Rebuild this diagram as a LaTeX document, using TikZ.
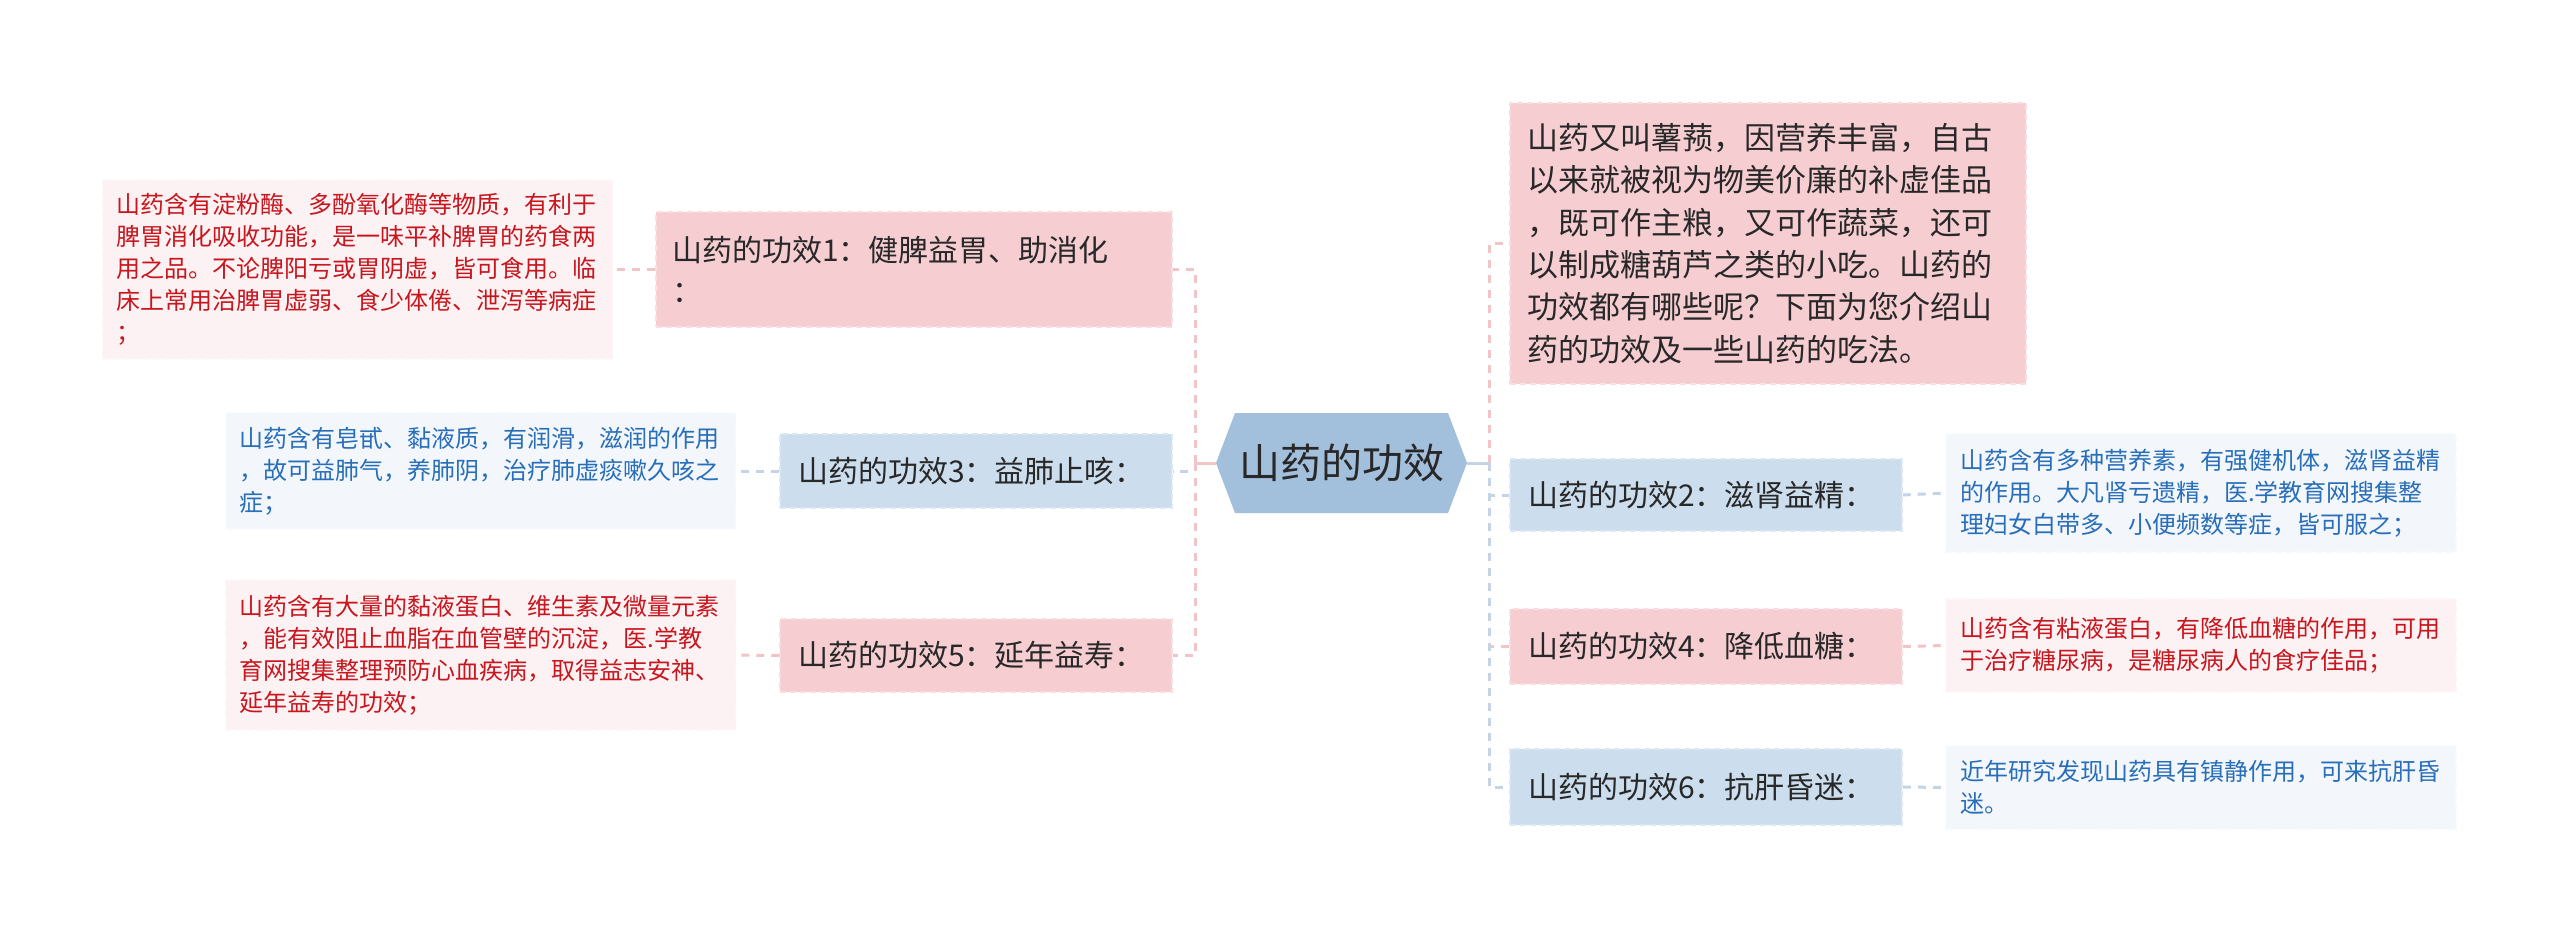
\documentclass[tikz,border=0pt]{standalone}
\usepackage{fontspec}
\setmainfont{Noto Sans CJK SC}
\definecolor{rootfill}{HTML}{A2BFDC}
\definecolor{pinkfill}{HTML}{F6CED2}
\definecolor{pinkborder}{HTML}{F9DDE0}
\definecolor{bluefill}{HTML}{CCDEEE}
\definecolor{blueborder}{HTML}{DCE8F3}
\definecolor{leafpink}{HTML}{FCF2F3}
\definecolor{leafpinkborder}{HTML}{FDF6F7}
\definecolor{leafblue}{HTML}{F3F7FC}
\definecolor{leafblueborder}{HTML}{F7FAFD}
\definecolor{redtext}{HTML}{C8161E}
\definecolor{bluetext}{HTML}{286EB9}
\definecolor{darktext}{HTML}{282828}
\definecolor{pinkline}{HTML}{F2C4C8}
\definecolor{blueline}{HTML}{C4D4E6}
\begin{document}
\begin{tikzpicture}[x=1pt,y=-1pt,
  mainbox/.style={rectangle, dashed, dash pattern=on 6pt off 4pt, line width=1.5pt, inner xsep=0pt, inner ysep=0pt, align=left, text=darktext, font=\fontsize{30}{41}\selectfont},
  pinkmain/.style={mainbox, fill=pinkfill, draw=pinkborder},
  bluemain/.style={mainbox, fill=bluefill, draw=blueborder},
  narrowmain/.style={text width=356pt, minimum width=392pt},
  leafbox/.style={rectangle, dashed, dash pattern=on 6pt off 4pt, line width=1.5pt, inner xsep=0pt, inner ysep=0pt, align=left, text width=482pt, minimum width=510pt, font=\fontsize{24}{32}\selectfont},
  pinkleaf/.style={leafbox, fill=leafpink, draw=leafpinkborder, text=redtext},
  blueleaf/.style={leafbox, fill=leafblue, draw=leafblueborder, text=bluetext},
  pinkedge/.style={draw=pinkline, line width=3pt, dash pattern=on 8pt off 7pt},
  blueedge/.style={draw=blueline, line width=3pt, dash pattern=on 8pt off 7pt},
  pinkroot/.style={draw=pinkline, line width=3pt},
  blueroot/.style={draw=blueline, line width=3pt}
]
\fill[white] (0,0) rectangle (2560,934);
\useasboundingbox (0,0) rectangle (2560,934);

% root hexagon
\fill[rootfill] (1216,463) -- (1235,413) -- (1448,413) -- (1467,463) -- (1448,513) -- (1235,513) -- cycle;
\node[text=darktext, font=\fontsize{41}{41}\selectfont, minimum width=251pt, minimum height=100pt, inner sep=0pt] (root) at (1341.5,463) {山药的功效};

% trunk coordinates
\coordinate (lt) at (1195,463);
\coordinate (rt) at (1489,463);

% left main nodes
\node[pinkmain, text width=484pt, minimum width=516pt, minimum height=115pt] (n1) at (914,269.5) {山药的功效1：健脾益胃、助消化\\：};
\node[bluemain, narrowmain, minimum height=74pt] (n3) at (976,471) {山药的功效3：益肺止咳：};
\node[pinkmain, narrowmain, minimum height=73pt] (n5) at (976,655.5) {山药的功效5：延年益寿：};

% right main nodes
\node[pinkmain, text width=482pt, minimum width=516pt, minimum height=281pt, font=\fontsize{31}{42.4}\selectfont] (intro) at (1768,243.5) {山药又叫薯蓣，因营养丰富，自古\\以来就被视为物美价廉的补虚佳品\\，既可作主粮，又可作蔬菜，还可\\以制成糖葫芦之类的小吃。山药的\\功效都有哪些呢？下面为您介绍山\\药的功效及一些山药的吃法。};
\node[bluemain, narrowmain, minimum height=72pt] (n2) at (1706,495) {山药的功效2：滋肾益精：};
\node[pinkmain, narrowmain, minimum height=75pt] (n4) at (1706,646.5) {山药的功效4：降低血糖：};
\node[bluemain, narrowmain, minimum height=76pt] (n6) at (1706,787) {山药的功效6：抗肝昏迷：};

% leaves
\node[pinkleaf, minimum height=179pt] (l1) at (357.5,269.5) {山药含有淀粉酶、多酚氧化酶等物质，有利于\\脾胃消化吸收功能，是一味平补脾胃的药食两\\用之品。不论脾阳亏或胃阴虚，皆可食用。临\\床上常用治脾胃虚弱、食少体倦、泄泻等病症\\；};
\node[blueleaf, minimum height=116pt] (l3) at (480.5,471) {山药含有皂甙、黏液质，有润滑，滋润的作用\\，故可益肺气，养肺阴，治疗肺虚痰嗽久咳之\\症；};
\node[pinkleaf, minimum height=150pt] (l5) at (480.5,655) {山药含有大量的黏液蛋白、维生素及微量元素\\，能有效阻止血脂在血管壁的沉淀，医.学教\\育网搜集整理预防心血疾病，取得益志安神、\\延年益寿的功效；};
\node[blueleaf, minimum height=118pt] (l2) at (2201,493) {山药含有多种营养素，有强健机体，滋肾益精\\的作用。大凡肾亏遗精，医.学教育网搜集整\\理妇女白带多、小便频数等症，皆可服之；};
\node[pinkleaf, minimum height=93pt] (l4) at (2201,645.5) {山药含有粘液蛋白，有降低血糖的作用，可用\\于治疗糖尿病，是糖尿病人的食疗佳品；};
\node[blueleaf, minimum height=83pt] (l6) at (2201,787.5) {近年研究发现山药具有镇静作用，可来抗肝昏\\迷。};

% connectors root -> main (left)
\draw[blueedge] (lt) |- (n3.east);
\draw[pinkedge] (lt) |- (n1.east);
\draw[pinkedge] (lt) |- (n5.east);
\draw[pinkroot] (root.west) -- (lt);

% connectors root -> main (right)
\draw[pinkedge] (rt) |- (intro.west);
\draw[blueedge] (rt) |- (n2.west);
\draw[pinkedge] (rt) |- (n4.west);
\draw[blueedge] (rt) |- (n6.west);
\draw[blueroot] (root.east) -- (rt);

% main -> leaf
\draw[pinkedge] (n1.west) -- (l1.east);
\draw[blueedge] (n3.west) -- (l3.east);
\draw[pinkedge] (n5.west) -- (l5.east);
\draw[blueedge] (n2.east) -- (l2.west);
\draw[pinkedge] (n4.east) -- (l4.west);
\draw[blueedge] (n6.east) -- (l6.west);
\end{tikzpicture}
\end{document}
